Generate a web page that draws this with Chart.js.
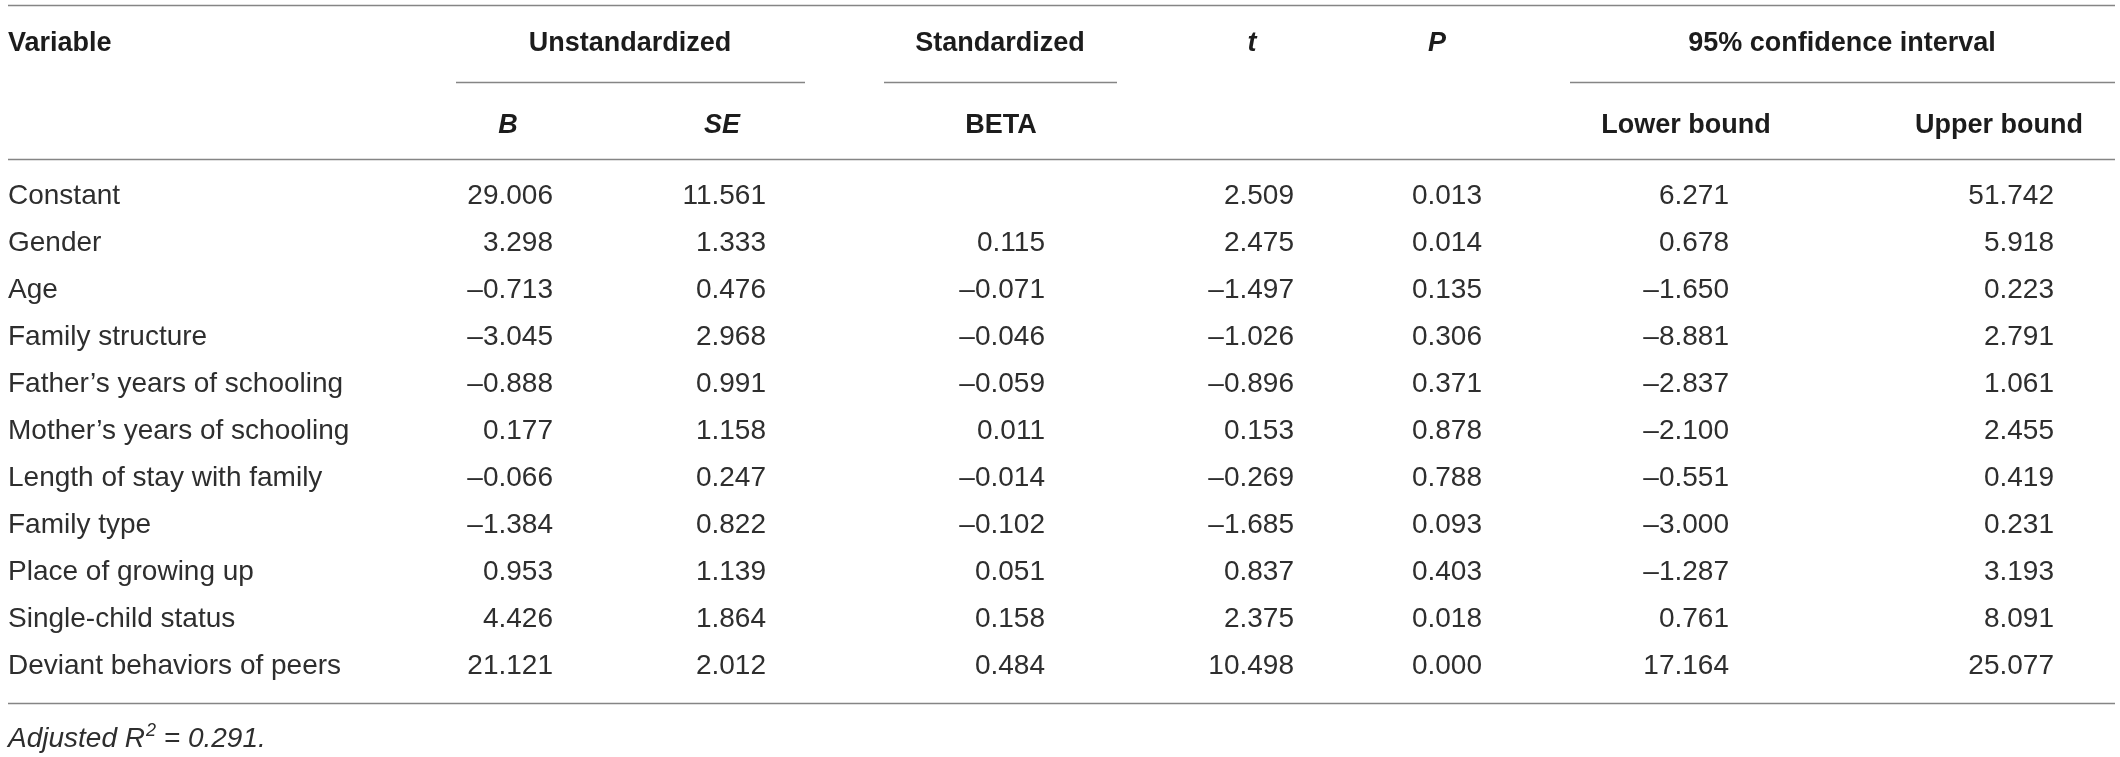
<!DOCTYPE html>
<html>
<head>
<meta charset="utf-8">
<title>Regression table</title>
<script src="https://cdn.jsdelivr.net/npm/chart.js@4.4.1/dist/chart.umd.min.js"></script>
<style>
  html, body { margin: 0; padding: 0; background: #fff; }
  #wrap { width: 2120px; height: 757px; }
</style>
</head>
<body>
<div id="wrap"><canvas id="tabla" width="2120" height="757"></canvas></div>
<script>
const VARIABLES = [
  'Constant', 'Gender', 'Age', 'Family structure',
  'Father\u2019s years of schooling', 'Mother\u2019s years of schooling',
  'Length of stay with family', 'Family type', 'Place of growing up',
  'Single-child status', 'Deviant behaviors of peers'
];
const B_VALS     = [29.006, 3.298, -0.713, -3.045, -0.888, 0.177, -0.066, -1.384, 0.953, 4.426, 21.121];
const SE_VALS    = [11.561, 1.333, 0.476, 2.968, 0.991, 1.158, 0.247, 0.822, 1.139, 1.864, 2.012];
const BETA_VALS  = [null, 0.115, -0.071, -0.046, -0.059, 0.011, -0.014, -0.102, 0.051, 0.158, 0.484];
const T_VALS     = [2.509, 2.475, -1.497, -1.026, -0.896, 0.153, -0.269, -1.685, 0.837, 2.375, 10.498];
const P_VALS     = [0.013, 0.014, 0.135, 0.306, 0.371, 0.878, 0.788, 0.093, 0.403, 0.018, 0.000];
const LOWER_VALS = [6.271, 0.678, -1.650, -8.881, -2.837, -2.100, -0.551, -3.000, -1.287, 0.761, 17.164];
const UPPER_VALS = [51.742, 5.918, 0.223, 2.791, 1.061, 2.455, 0.419, 0.231, 3.193, 8.091, 25.077];

const GROUP_HEADERS = ['Variable', 'Unstandardized', 'Standardized', 't', 'P', '95% confidence interval'];
const SUB_HEADERS = ['B', 'SE', 'BETA', 'Lower bound', 'Upper bound'];
const FOOTNOTE = ['Adjusted R', '2', ' = 0.291.'];

// ---- layout (x in scale units, y in px) ----
const X_MIN = 0, X_MAX = 2120;
const TABLE_SPAN = [8, 2115];
const COL_RIGHT = [553, 766, 1045, 1294, 1482, 1729, 2054];   // right edge of numeric columns
const GROUP_X = [8, 630, 1000, 1252, 1437, 1842];
const GROUP_ITALIC = [false, false, false, true, true, false];
const GROUP_LINES = [[456, 805], [884, 1117], [1570, 2115]];
const SUB_X = [508, 722, 1001, 1686, 1999];
const SUB_ITALIC = [true, true, false, false, false];
const Y = { top: 5.5, head: 51, groupLine: 82.5, sub: 133, headLine: 159.5, bottom: 703.5, foot: 747 };
const BASE_SHIFT = 10;  // row centre -> text baseline

const FONT = '"Liberation Sans", Arial, sans-serif';
const TXT = '#2e2e2e';
const HEAD = '#1c1c1c';
const RULE = '#858585';

function fmt(v) {
  return v.toFixed(3).replace('-', '\u2013');
}

function columnDataset(vals) {
  const data = [];
  vals.forEach((v, i) => {
    if (v === null) return;
    data.push({ x: 0, y: VARIABLES[i], txt: fmt(v) });
  });
  return data;
}

const COLUMNS = [B_VALS, SE_VALS, BETA_VALS, T_VALS, P_VALS, LOWER_VALS, UPPER_VALS];

const datasets = [{
  label: 'Variable',
  data: VARIABLES.map(v => ({ x: TABLE_SPAN[0], y: v, txt: v })),
  textAlign: 'left',
  pointRadius: 0
}].concat(COLUMNS.map((vals, c) => ({
  label: 'col' + c,
  data: columnDataset(vals).map(d => Object.assign(d, { x: COL_RIGHT[c] })),
  textAlign: 'right',
  pointRadius: 0
})));

function hLine(ctx, x, y, a, b) {
  ctx.beginPath();
  ctx.moveTo(x.getPixelForValue(a), y);
  ctx.lineTo(x.getPixelForValue(b), y);
  ctx.stroke();
}

const tablePlugin = {
  id: 'tablePlugin',
  afterDatasetsDraw(chart) {
    const ctx = chart.ctx;
    const x = chart.scales.x;
    ctx.save();

    // rules
    ctx.strokeStyle = RULE;
    ctx.lineWidth = 1.3;
    hLine(ctx, x, Y.top, TABLE_SPAN[0], TABLE_SPAN[1]);
    GROUP_LINES.forEach(s => hLine(ctx, x, Y.groupLine, s[0], s[1]));
    hLine(ctx, x, Y.headLine, TABLE_SPAN[0], TABLE_SPAN[1]);
    hLine(ctx, x, Y.bottom, TABLE_SPAN[0], TABLE_SPAN[1]);

    // headers
    ctx.fillStyle = HEAD;
    ctx.textBaseline = 'alphabetic';
    GROUP_HEADERS.forEach((h, i) => {
      ctx.font = (GROUP_ITALIC[i] ? 'italic ' : '') + 'bold 27px ' + FONT;
      ctx.textAlign = i === 0 ? 'left' : 'center';
      ctx.fillText(h, x.getPixelForValue(GROUP_X[i]), Y.head);
    });
    SUB_HEADERS.forEach((h, i) => {
      ctx.font = (SUB_ITALIC[i] ? 'italic ' : '') + 'bold 27px ' + FONT;
      ctx.textAlign = 'center';
      ctx.fillText(h, x.getPixelForValue(SUB_X[i]), Y.sub);
    });

    // body cells, placed by the scales
    ctx.fillStyle = TXT;
    ctx.font = '28px ' + FONT;
    chart.data.datasets.forEach((ds, di) => {
      const meta = chart.getDatasetMeta(di);
      ctx.textAlign = ds.textAlign;
      meta.data.forEach((pt, i) => {
        ctx.fillText(ds.data[i].txt, pt.x, pt.y + BASE_SHIFT);
      });
    });

    // footnote with superscript
    ctx.textAlign = 'left';
    let fx = x.getPixelForValue(TABLE_SPAN[0]);
    ctx.font = 'italic 28px ' + FONT;
    ctx.fillText(FOOTNOTE[0], fx, Y.foot);
    fx += ctx.measureText(FOOTNOTE[0]).width + 1;
    ctx.font = 'italic 18px ' + FONT;
    ctx.fillText(FOOTNOTE[1], fx, Y.foot - 11);
    fx += ctx.measureText(FOOTNOTE[1]).width;
    ctx.font = 'italic 28px ' + FONT;
    ctx.fillText(FOOTNOTE[2], fx, Y.foot);

    ctx.restore();
  }
};

new Chart(document.getElementById('tabla').getContext('2d'), {
  type: 'scatter',
  data: { datasets },
  options: {
    responsive: false,
    devicePixelRatio: 1,
    animation: false,
    events: [],
    layout: { padding: { top: 170.5, bottom: 69.5, left: 0, right: 0 } },
    plugins: { legend: { display: false }, tooltip: { enabled: false } },
    scales: {
      x: { type: 'linear', min: X_MIN, max: X_MAX, display: false },
      y: { type: 'category', labels: VARIABLES, offset: true, display: false }
    }
  },
  plugins: [tablePlugin]
});
</script>
</body>
</html>
